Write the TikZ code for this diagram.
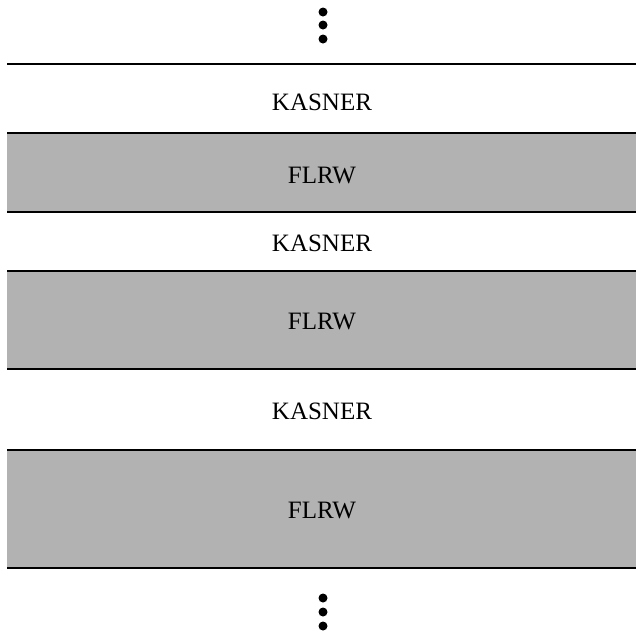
\documentclass[tikz,border=0pt]{standalone}
\usepackage{fontspec}
\setmainfont{Liberation Serif}
\tikzset{
  band/.style={fill=black!30, draw=none},
  edge/.style={line width=2pt, black},
  lbl/.style={font=\fontsize{25}{25}\selectfont, inner sep=0pt, anchor=center},
  dot/.style={fill=black, draw=none}
}
\begin{document}
\begin{tikzpicture}[x=1pt, y=-1pt]
  \useasboundingbox (0,0) rectangle (636,633);
  % continuation dots above
  \foreach \yy in {12,25,39} \fill[dot] (323,\yy) circle (4.5);
  % top boundary
  \draw[edge] (7,64) -- (636,64);
  % shaded FLRW slabs
  \fill[band] (7,133) rectangle (636,212);
  \fill[band] (7,271) rectangle (636,369);
  \fill[band] (7,450) rectangle (636,568);
  \foreach \ya/\yb in {133/212, 271/369, 450/568} {
    \draw[edge] (7,\ya) -- (636,\ya);
    \draw[edge] (7,\yb) -- (636,\yb);
  }
  % labels
  \node[lbl] (k1) at (322,102) {KASNER};
  \node[lbl] (f1) at (322,175) {FLRW};
  \node[lbl] (k2) at (322,243) {KASNER};
  \node[lbl] (f2) at (322,321) {FLRW};
  \node[lbl] (k3) at (322,411) {KASNER};
  \node[lbl] (f3) at (322,510) {FLRW};
  % continuation dots below
  \foreach \yy in {598,612,626} \fill[dot] (323,\yy) circle (4.5);
\end{tikzpicture}
\end{document}
